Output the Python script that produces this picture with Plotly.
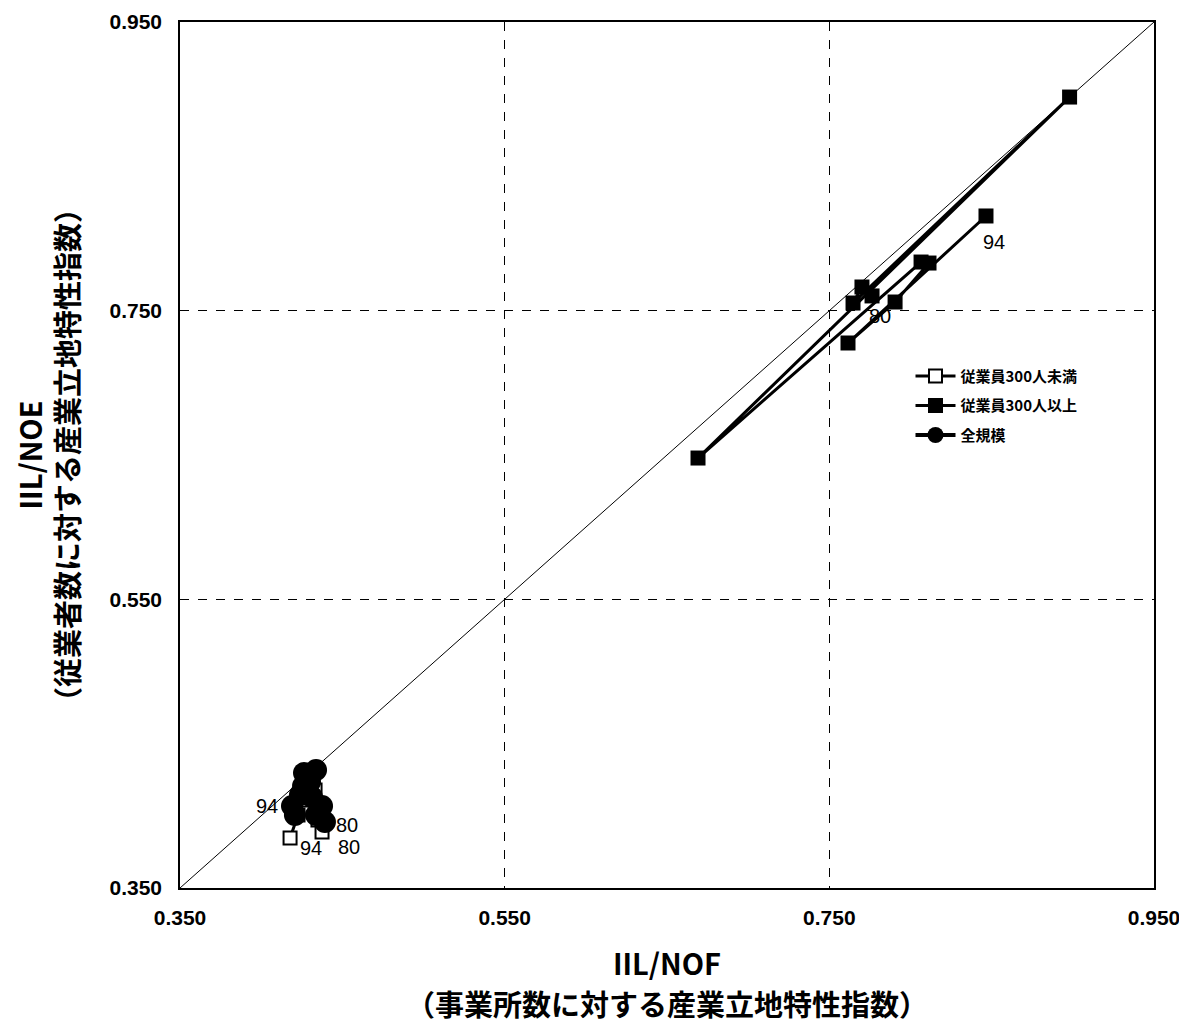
import plotly.graph_objects as go

# ---- data ----
small_name = "従業員300人未満"
small_x = [0.4375, 0.4350, 0.4332, 0.4270, 0.4227, 0.4178]
small_y = [0.3888, 0.3971, 0.4179, 0.4110, 0.4006, 0.3846]

large_name = "従業員300人以上"
large_x = [0.7763, 0.7701, 0.7646, 0.8980, 0.6691, 0.8065, 0.8114, 0.7905, 0.7615, 0.8465]
large_y = [0.7602, 0.7664, 0.7553, 0.8980, 0.6479, 0.7837, 0.7830, 0.7560, 0.7276, 0.8156]

all_name = "全規模"
all_x = [0.4393, 0.4338, 0.4375, 0.4313, 0.4258, 0.4264, 0.4338, 0.4301, 0.4239, 0.4208, 0.4190]
all_y = [0.3957, 0.4006, 0.4068, 0.4130, 0.4207, 0.4297, 0.4318, 0.4234, 0.4144, 0.4006, 0.4068]

start_label = "80"
end_label = "94"

axis_range = [0.35, 0.95]
tick_vals = [0.35, 0.55, 0.75, 0.95]
tick_text = ["0.350", "0.550", "0.750", "0.950"]

x_title = "IIL/NOF"
x_subtitle = "（事業所数に対する産業立地特性指数）"
y_title = "IIL/NOE"
y_subtitle = "（従業者数に対する産業立地特性指数）"

JP = "Noto Sans CJK JP"
NUM = "Liberation Sans Narrow, Liberation Sans, Arial"
TITLE_FONT = dict(family=JP, size=29, color="black", weight="bold")

fig = go.Figure()

# 45-degree reference line
fig.add_trace(go.Scatter(x=axis_range, y=axis_range, mode="lines",
                         line=dict(color="black", width=1), showlegend=False,
                         hoverinfo="skip"))

fig.add_trace(go.Scatter(x=small_x, y=small_y, mode="lines+markers", name=small_name,
                         legendgroup="a",
                         line=dict(color="black", width=3),
                         marker=dict(symbol="square", size=13, color="white",
                                     line=dict(color="black", width=2))))
fig.add_trace(go.Scatter(x=large_x, y=large_y, mode="lines+markers", name=large_name,
                         legendgroup="b",
                         line=dict(color="black", width=3),
                         marker=dict(symbol="square", size=15, color="black")))
fig.add_trace(go.Scatter(x=all_x, y=all_y, mode="lines+markers", name=all_name,
                         legendgroup="c",
                         line=dict(color="black", width=4),
                         marker=dict(symbol="circle", size=22, color="black")))

def label(xs, ys, idx, text, dx, dy):
    fig.add_annotation(x=xs[idx], y=ys[idx], text=text, showarrow=False,
                       xshift=dx, yshift=dy,
                       font=dict(family=NUM, size=20, color="black"))

label(large_x, large_y, 0, start_label, 8, -20)
label(large_x, large_y, -1, end_label, 8, -26)
label(all_x, all_y, 0, start_label, 22, -3)
label(all_x, all_y, -1, end_label, -25, 0)
label(small_x, small_y, 0, start_label, 27, -15)
label(small_x, small_y, -1, end_label, 21, -10)

# second lines of the axis titles
fig.add_annotation(xref="paper", yref="paper", x=0.5, y=-0.133,
                   xanchor="center", yanchor="middle", showarrow=False,
                   text=x_subtitle, font=TITLE_FONT)
fig.add_annotation(xref="paper", yref="paper", x=-0.117, y=0.5,
                   xanchor="center", yanchor="middle", showarrow=False,
                   textangle=-90, text=y_subtitle, font=TITLE_FONT)

axis_common = dict(range=axis_range, tickvals=tick_vals, ticktext=tick_text,
                   showline=True, linecolor="black", linewidth=1.5, mirror=True,
                   showgrid=True, gridcolor="black", griddash="dash", gridwidth=1,
                   zeroline=False, ticks="", automargin=False,
                   tickfont=dict(family=NUM, size=21, color="black", weight="bold"))

fig.update_xaxes(**axis_common, ticklabelstandoff=10,
                 title=dict(text=x_title, font=TITLE_FONT, standoff=27))
fig.update_yaxes(**axis_common, ticklabelstandoff=12,
                 title=dict(text=y_title, font=TITLE_FONT, standoff=66))

fig.update_layout(
    width=1187, height=1024,
    margin=dict(l=172, r=41, t=14, b=144),
    plot_bgcolor="white", paper_bgcolor="white",
    legend=dict(x=0.75, y=0.61, xanchor="left", yanchor="top",
                bgcolor="rgba(0,0,0,0)", tracegroupgap=7, itemwidth=40,
                font=dict(family=JP, size=15, color="black", weight="bold")),
    showlegend=True,
)

fig.write_html("out.html")
